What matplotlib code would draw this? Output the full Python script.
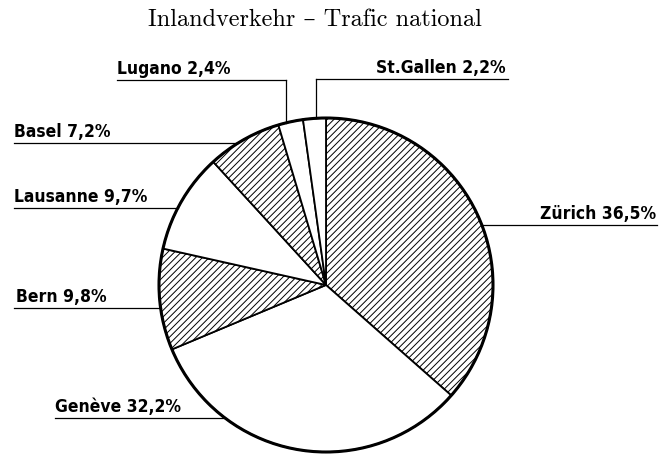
import numpy as np
import matplotlib.pyplot as plt
from matplotlib.patches import Circle

cities = ["Zürich", "Genève", "Bern", "Lausanne", "Basel", "Lugano", "St.Gallen"]
shares = [36.5, 32.2, 9.8, 9.7, 7.2, 2.4, 2.2]
hatched = [True, False, True, False, True, False, False]
title = "Inlandverkehr – Trafic national"

# pie geometry in pixels (figure is 670x454)
CX, CY, R = 326, 285, 167


def px(x, y):
    '''pixel position -> data coords (pie radius = 1)'''
    return (x - CX) / R, (CY - y) / R


# label layout: text left x, underline y, line start x, line end x (None = pie edge), vertical drop x
layout = {
    "Zürich":    (540, 225, None, 657, None),
    "Genève":    (55, 418, 55, None, None),
    "Bern":      (16, 308, 14, None, None),
    "Lausanne":  (14, 208, 14, None, None),
    "Basel":     (14, 143, 14, None, None),
    "Lugano":    (117, 80, 117, 286, 286),
    "St.Gallen": (376, 79, 316, 508, 316),
}

plt.rcParams['hatch.linewidth'] = 0.7
fig = plt.figure(figsize=(6.7, 4.54), dpi=100)
ax = fig.add_axes([0, 0, 1, 1])

wedges, _ = ax.pie(shares, radius=1, center=(0, 0), startangle=90, counterclock=False,
                   colors=["white"] * len(shares),
                   wedgeprops=dict(edgecolor="black", linewidth=1.3))
for w, h in zip(wedges, hatched):
    if h:
        w.set_hatch("/////")
ax.add_patch(Circle((0, 0), 1, fill=False, edgecolor="black", linewidth=2.2, zorder=3))

lab_font = dict(family="DejaVu Sans", fontstretch="condensed", weight="bold", fontsize=12.5)
for name, val in zip(cities, shares):
    tx, ly, x0, x1, vx = layout[name]
    num = f"{val:.1f}".replace(".", ",")
    text = f"{name} {num}%"
    ax.text(*px(tx, ly - 6), text, ha="left", va="baseline", **lab_font)
    y = (CY - ly) / R
    edge = np.sqrt(max(1 - y ** 2, 0))
    if vx is not None:
        xa, ya = px(x0, ly)
        xb, _ = px(x1, ly)
        ax.plot([xa, xb], [ya, ya], color="black", lw=0.9)
        xv = (vx - CX) / R
        ax.plot([xv, xv], [ya, np.sqrt(1 - xv ** 2)], color="black", lw=0.9)
    elif x0 is None:
        xb, _ = px(x1, ly)
        ax.plot([edge, xb], [y, y], color="black", lw=0.9)
    else:
        xa, _ = px(x0, ly)
        ax.plot([xa, -edge], [y, y], color="black", lw=0.9)

ax.text(*px(315, 26), title, ha="center", va="baseline", fontsize=17.5,
        family=["cmr10", "DejaVu Serif"])

ax.set_xlim(-CX / R, (670 - CX) / R)
ax.set_ylim((CY - 454) / R, CY / R)
ax.set_aspect("equal")
ax.axis("off")
fig.savefig("out.png", dpi=100)
